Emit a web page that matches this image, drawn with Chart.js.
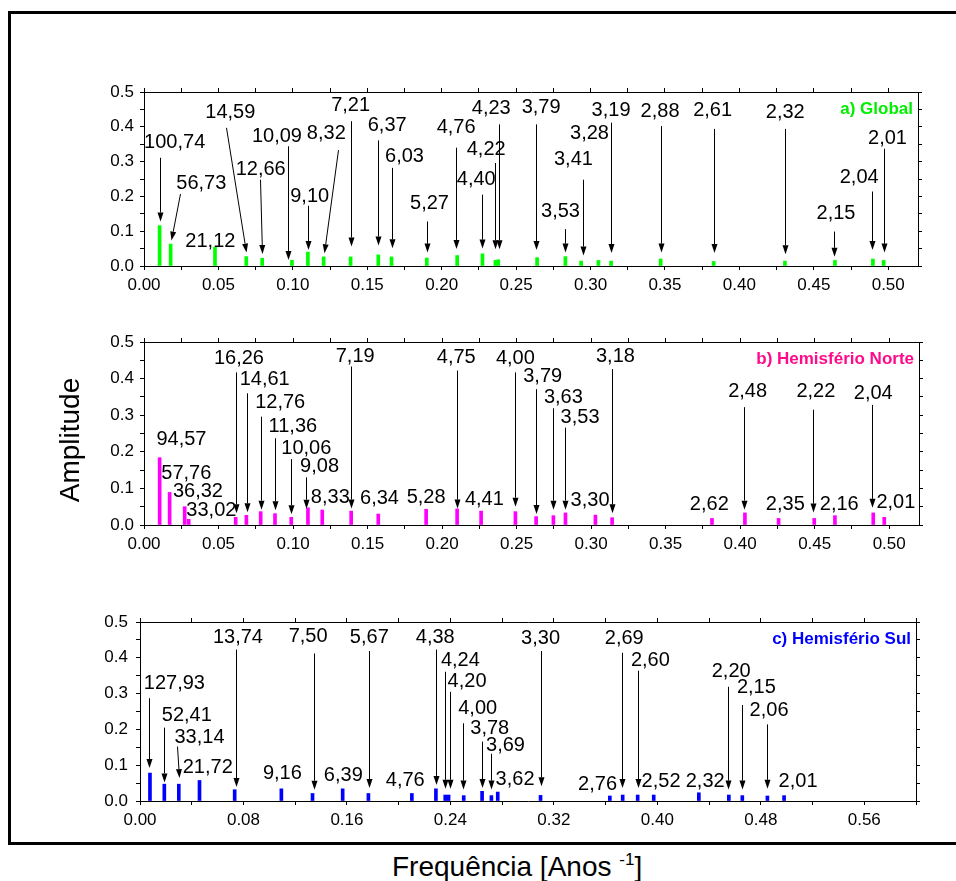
<!DOCTYPE html>
<html>
<head>
<meta charset="utf-8">
<script src="https://cdn.jsdelivr.net/npm/chart.js@4.4.1/dist/chart.umd.min.js"></script>
<style>
  html, body { margin: 0; padding: 0; background: #fff; }
  #wrap { position: relative; width: 956px; height: 881px; overflow: hidden; font-family: 'Liberation Sans', Arial, sans-serif; }
  #frame { position: absolute; left: 8px; top: 11px; width: 990px; height: 834px; border: 3px solid #000; box-sizing: border-box; }
  canvas { position: absolute; left: 0; }
  #ytitle { position: absolute; left: -30px; top: 426px; width: 200px; height: 28px; line-height: 28px; text-align: center; font-size: 28px; transform: rotate(-90deg); }
  #xtitle { position: absolute; left: 392px; top: 853px; height: 28px; line-height: 28px; font-size: 28px; white-space: nowrap; }
  #xtitle span { font-size: 17px; position: relative; top: -11px; }
</style>
</head>
<body>
<div id="wrap">
  <div id="frame"></div>
  <canvas id="cA" width="956" height="240" style="top:60px"></canvas>
  <canvas id="cB" width="956" height="250" style="top:310px"></canvas>
  <canvas id="cC" width="956" height="245" style="top:590px"></canvas>
  <div id="ytitle">Amplitude</div>
  <div id="xtitle">Frequência [Anos <span>-1</span>]</div>
</div>
<script>
(function () {
  'use strict';

  // a) Global
  var GLOBAL_FREQ = [0.0105, 0.0179, 0.0477, 0.0687, 0.0794, 0.0994, 0.1101, 0.1207, 0.1388, 0.1574,
    0.1663, 0.1900, 0.2104, 0.2274, 0.2361, 0.2380, 0.2641, 0.2831, 0.2937, 0.3053,
    0.3138, 0.3471, 0.3827, 0.4306, 0.4642, 0.4897, 0.4969];
  var GLOBAL_AMP = [0.116, 0.063, 0.054, 0.027, 0.022, 0.0165, 0.040, 0.026, 0.026, 0.032,
    0.026, 0.023, 0.030, 0.035, 0.016, 0.018, 0.024, 0.027, 0.014, 0.016,
    0.014, 0.020, 0.013, 0.014, 0.016, 0.020, 0.016];
  // label, label x, label y, arrow from x, y, arrow tip x, y
  var GLOBAL_NOTES = [
    ['100,74', 0.0206, 0.356, 0.0110, 0.311, 0.0110, 0.128],
    ['56,73', 0.0385, 0.237, 0.0244, 0.207, 0.0179, 0.073],
    ['21,12', 0.0446, 0.070],
    ['14,59', 0.0580, 0.440, 0.0553, 0.397, 0.0687, 0.0385],
    ['12,66', 0.0784, 0.277, 0.0777, 0.248, 0.0794, 0.0346],
    ['10,09', 0.0893, 0.371, 0.0967, 0.344, 0.0967, 0.0173],
    ['9,10', 0.1113, 0.200, 0.1101, 0.173, 0.1101, 0.046],
    ['8,32', 0.1225, 0.381, 0.1303, 0.333, 0.1207, 0.0365],
    ['7,21', 0.1388, 0.460, 0.1388, 0.416, 0.1388, 0.056],
    ['6,37', 0.1634, 0.404, 0.1574, 0.361, 0.1574, 0.059],
    ['6,03', 0.1750, 0.315, 0.1663, 0.282, 0.1663, 0.051],
    ['5,27', 0.1918, 0.181, 0.1900, 0.128, 0.1900, 0.0385],
    ['4,76', 0.2097, 0.397, 0.2096, 0.340, 0.2096, 0.049],
    ['4,40', 0.2232, 0.248, 0.2274, 0.205, 0.2274, 0.050],
    ['4,22', 0.2299, 0.335, 0.2359, 0.296, 0.2359, 0.048],
    ['4,23', 0.2333, 0.452, 0.2385, 0.407, 0.2385, 0.048],
    ['3,79', 0.2668, 0.455, 0.2635, 0.407, 0.2635, 0.046],
    ['3,53', 0.2798, 0.157, 0.2831, 0.106, 0.2831, 0.0385],
    ['3,41', 0.2885, 0.306, 0.2952, 0.248, 0.2952, 0.030],
    ['3,28', 0.2993, 0.381],
    ['3,19', 0.3138, 0.448, 0.3138, 0.412, 0.3138, 0.037],
    ['2,88', 0.3467, 0.445, 0.3476, 0.402, 0.3476, 0.0385],
    ['2,61', 0.3820, 0.448, 0.3827, 0.394, 0.3827, 0.037],
    ['2,32', 0.4308, 0.440, 0.4306, 0.394, 0.4306, 0.034],
    ['2,15', 0.4649, 0.150, 0.4633, 0.099, 0.4633, 0.0265],
    ['2,04', 0.4805, 0.253, 0.4890, 0.214, 0.4890, 0.046],
    ['2,01', 0.4995, 0.365, 0.4973, 0.337, 0.4973, 0.0385]
  ];

  // b) Hemisfério Norte
  var NORTE_FREQ = [0.0105, 0.0172, 0.0273, 0.0300, 0.0615, 0.0687, 0.0783, 0.0879, 0.0988, 0.1100,
    0.1196, 0.1390, 0.1572, 0.1893, 0.2101, 0.2262, 0.2492, 0.2631, 0.2747, 0.2828,
    0.3029, 0.3141, 0.3811, 0.4032, 0.4258, 0.4497, 0.4636, 0.4893, 0.4967];
  var NORTE_AMP = [0.184, 0.089, 0.050, 0.0155, 0.021, 0.0265, 0.0365, 0.031, 0.021, 0.047,
    0.041, 0.038, 0.030, 0.043, 0.044, 0.038, 0.0365, 0.023, 0.0255, 0.033,
    0.027, 0.020, 0.018, 0.033, 0.018, 0.018, 0.0255, 0.033, 0.021];
  var NORTE_NOTES = [
    ['94,57', 0.0251, 0.2345],
    ['57,76', 0.0284, 0.1414],
    ['36,32', 0.0362, 0.091],
    ['33,02', 0.0452, 0.041],
    ['16,26', 0.0637, 0.456, 0.0615, 0.417, 0.0615, 0.032],
    ['14,61', 0.0810, 0.397, 0.0690, 0.360, 0.0690, 0.035],
    ['12,76', 0.0914, 0.335, 0.0787, 0.296, 0.0787, 0.042],
    ['11,36', 0.0999, 0.269, 0.0881, 0.237, 0.0881, 0.040],
    ['10,06', 0.1089, 0.210, 0.0988, 0.180, 0.0988, 0.0295],
    ['9,08', 0.1178, 0.160, 0.1089, 0.130, 0.1089, 0.0445],
    ['8,33', 0.1250, 0.076],
    ['7,19', 0.1417, 0.461, 0.1390, 0.433, 0.1390, 0.045],
    ['6,34', 0.1580, 0.073],
    ['5,28', 0.1893, 0.076],
    ['4,75', 0.2095, 0.459, 0.2101, 0.422, 0.2101, 0.045],
    ['4,41', 0.2284, 0.070],
    ['4,00', 0.2492, 0.456, 0.2492, 0.417, 0.2492, 0.050],
    ['3,79', 0.2675, 0.406, 0.2631, 0.371, 0.2631, 0.030],
    ['3,63', 0.2814, 0.349, 0.2747, 0.319, 0.2747, 0.042],
    ['3,53', 0.2926, 0.295, 0.2823, 0.266, 0.2823, 0.042],
    ['3,30', 0.2993, 0.068],
    ['3,18', 0.3163, 0.461, 0.3141, 0.426, 0.3141, 0.032],
    ['2,62', 0.3793, 0.055],
    ['2,48', 0.4050, 0.365, 0.4023, 0.322, 0.4023, 0.042],
    ['2,35', 0.4303, 0.055],
    ['2,22', 0.4508, 0.365, 0.4486, 0.315, 0.4486, 0.034],
    ['2,16', 0.4665, 0.057],
    ['2,04', 0.4893, 0.360, 0.4884, 0.328, 0.4884, 0.047],
    ['2,01', 0.5045, 0.061]
  ];

  // c) Hemisfério Sul
  var SUL_FREQ = [0.0077, 0.0188, 0.0300, 0.0460, 0.0732, 0.1093, 0.1334, 0.1567, 0.1766, 0.2102,
    0.2288, 0.2360, 0.2386, 0.2503, 0.2645, 0.2717, 0.2766, 0.3097, 0.3633, 0.3732,
    0.3848, 0.3972, 0.4321, 0.4553, 0.4657, 0.4851, 0.4980];
  var SUL_AMP = [0.078, 0.047, 0.047, 0.0574, 0.0315, 0.034, 0.021, 0.034, 0.021, 0.021,
    0.034, 0.0167, 0.0167, 0.015, 0.027, 0.015, 0.025, 0.0157, 0.014, 0.0167,
    0.0167, 0.0167, 0.023, 0.0167, 0.015, 0.014, 0.015];
  var SUL_NOTES = [
    ['127,93', 0.0266, 0.3285, 0.0072, 0.287, 0.0072, 0.092],
    ['52,41', 0.0362, 0.239, 0.0188, 0.205, 0.0188, 0.052],
    ['33,14', 0.0460, 0.178, 0.0287, 0.152, 0.0300, 0.064],
    ['21,72', 0.0524, 0.0947],
    ['13,74', 0.0757, 0.458, 0.0740, 0.423, 0.0740, 0.039],
    ['9,16', 0.1101, 0.078],
    ['7,50', 0.1300, 0.460, 0.1344, 0.412, 0.1344, 0.0315],
    ['6,39', 0.1572, 0.071],
    ['5,67', 0.1773, 0.458, 0.1773, 0.419, 0.1773, 0.036],
    ['4,76', 0.2051, 0.057],
    ['4,38', 0.2283, 0.458, 0.2288, 0.423, 0.2288, 0.045],
    ['4,24', 0.2477, 0.393, 0.2355, 0.361, 0.2355, 0.034],
    ['4,20', 0.2529, 0.333, 0.2394, 0.305, 0.2394, 0.034],
    ['4,00', 0.2611, 0.259, 0.2498, 0.217, 0.2498, 0.032],
    ['3,78', 0.2704, 0.203, 0.2645, 0.166, 0.2645, 0.036],
    ['3,69', 0.2826, 0.154, 0.2717, 0.132, 0.2717, 0.032],
    ['3,62', 0.2900, 0.059],
    ['3,30', 0.3097, 0.454, 0.3097, 0.419, 0.3097, 0.041],
    ['2,76', 0.3538, 0.045],
    ['2,69', 0.3744, 0.454, 0.3727, 0.414, 0.3727, 0.036],
    ['2,60', 0.3946, 0.393, 0.3848, 0.364, 0.3848, 0.036],
    ['2,52', 0.4029, 0.055],
    ['2,32', 0.4370, 0.055],
    ['2,20', 0.4571, 0.363, 0.4546, 0.319, 0.4546, 0.032],
    ['2,15', 0.4766, 0.317, 0.4657, 0.268, 0.4657, 0.032],
    ['2,06', 0.4864, 0.252, 0.4851, 0.214, 0.4851, 0.034],
    ['2,01', 0.5088, 0.055]
  ];

  var FONT = "'Liberation Sans', Arial, sans-serif";
  Chart.defaults.font.family = FONT;
  Chart.defaults.color = '#000';

  function drawArrow(ctx, x1, y1, x2, y2) {
    var a = Math.atan2(y2 - y1, x2 - x1);
    var len = 9, half = 3;
    var bx = x2 - len * Math.cos(a), by = y2 - len * Math.sin(a);
    ctx.beginPath();
    ctx.moveTo(x1, y1);
    ctx.lineTo(bx, by);
    ctx.stroke();
    ctx.beginPath();
    ctx.moveTo(x2, y2);
    ctx.lineTo(bx + half * Math.sin(a), by - half * Math.cos(a));
    ctx.lineTo(bx - half * Math.sin(a), by + half * Math.cos(a));
    ctx.closePath();
    ctx.fill();
  }

  function makePanel(id, freq, amp, color, notes, title, titleColor, lay) {
    var minor = lay.xStep / 2;
    var notesPlugin = {
      id: 'notes_' + id,
      afterDatasetsDraw: function (chart) {
        var ctx = chart.ctx, xs = chart.scales.x, ys = chart.scales.y;
        ctx.save();
        ctx.fillStyle = '#000';
        ctx.strokeStyle = '#000';
        ctx.lineWidth = 1;
        ctx.font = '20px ' + FONT;
        ctx.textAlign = 'center';
        ctx.textBaseline = 'middle';
        notes.forEach(function (n) {
          ctx.fillText(n[0], xs.getPixelForValue(n[1]), ys.getPixelForValue(n[2]));
          if (n.length > 3) {
            var x1 = Math.round(xs.getPixelForValue(n[3])) + 0.5;
            var x2 = Math.round(xs.getPixelForValue(n[5])) + 0.5;
            drawArrow(ctx, x1, ys.getPixelForValue(n[4]), x2, ys.getPixelForValue(n[6]));
          }
        });
        ctx.font = 'bold 17px ' + FONT;
        ctx.fillStyle = titleColor;
        ctx.textAlign = 'right';
        ctx.fillText(title, chart.chartArea.right - 5, chart.chartArea.top + 17);
        ctx.restore();
      }
    };

    var tickGrid = { display: true, drawOnChartArea: false, drawTicks: true, tickLength: 4, color: '#000', offset: false };
    var border = { display: true, color: '#000', width: 1 };

    return new Chart(document.getElementById(id), {
      type: 'bar',
      plugins: [notesPlugin],
      data: {
        datasets: [{
          data: freq.map(function (f, i) { return { x: f, y: amp[i] }; }),
          backgroundColor: color,
          borderWidth: 0,
          barThickness: 3,
          xAxisID: 'x',
          yAxisID: 'y'
        }]
      },
      options: {
        responsive: false,
        animation: false,
        events: [],
        layout: { padding: 0 },
        plugins: { legend: { display: false }, tooltip: { enabled: false } },
        scales: {
          x: {
            type: 'linear', position: 'bottom', min: 0, max: lay.xMax, offset: false,
            grid: tickGrid, border: border,
            ticks: {
              stepSize: minor, autoSkip: false, maxRotation: 0, includeBounds: false,
              padding: 5, font: { size: 17 }, color: '#000',
              callback: function (v) {
                var k = Math.round(v / minor);
                return (k % 2 === 0) ? v.toFixed(2) : '';
              }
            },
            afterFit: function (s) { s.height = lay.bottomH; }
          },
          x2: {
            type: 'linear', position: 'top', min: 0, max: lay.xMax, offset: false,
            grid: tickGrid, border: border,
            ticks: { stepSize: minor, autoSkip: false, includeBounds: false, display: false },
            afterFit: function (s) { s.height = lay.topH; }
          },
          y: {
            type: 'linear', position: 'left', min: 0, max: 0.5,
            grid: tickGrid, border: border,
            ticks: {
              stepSize: 0.05, autoSkip: false, padding: lay.yPad, font: { size: 17 }, color: '#000',
              callback: function (v) {
                var k = Math.round(v / 0.05);
                return (k % 2 === 0) ? v.toFixed(1) : '';
              }
            },
            afterFit: function (s) { s.width = lay.leftW; }
          },
          y2: {
            type: 'linear', position: 'right', min: 0, max: 0.5,
            grid: tickGrid, border: border,
            ticks: { stepSize: 0.05, display: false },
            afterFit: function (s) { s.width = lay.rightW; }
          }
        }
      }
    });
  }

  makePanel('cA', GLOBAL_FREQ, GLOBAL_AMP, '#00ff00', GLOBAL_NOTES, 'a) Global', '#00ee00',
    { xMax: 0.52, xStep: 0.05, leftW: 144, rightW: 38, topH: 32, bottomH: 34, yPad: 6 });
  makePanel('cB', NORTE_FREQ, NORTE_AMP, '#ff00ff', NORTE_NOTES, 'b) Hemisfério Norte', '#ff0a8c',
    { xMax: 0.52, xStep: 0.05, leftW: 144, rightW: 37, topH: 32, bottomH: 35, yPad: 6 });
  makePanel('cC', SUL_FREQ, SUL_AMP, '#0000ff', SUL_NOTES, 'c) Hemisfério Sul', '#0000ff',
    { xMax: 0.60, xStep: 0.08, leftW: 140, rightW: 40, topH: 32, bottomH: 34, yPad: 8 });
})();
</script>
</body>
</html>
